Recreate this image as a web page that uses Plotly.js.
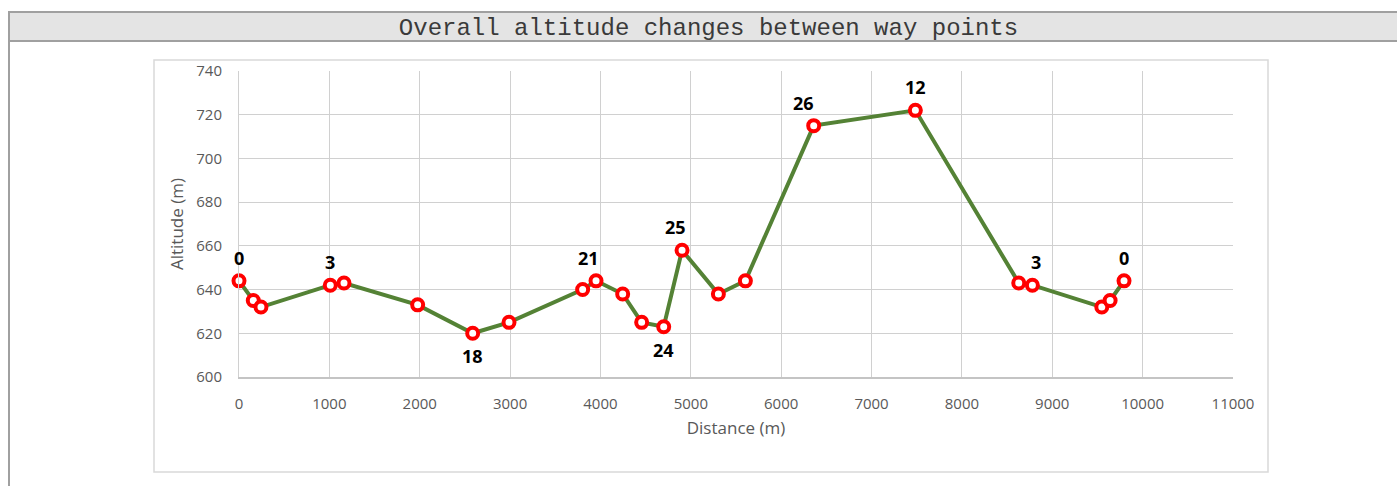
<!DOCTYPE html>
<html>
<head>
<meta charset="utf-8">
<script src="https://cdn.plot.ly/plotly-3.0.1.min.js"></script>
<style>
  html, body { margin: 0; padding: 0; background: #ffffff; }
  #chart { width: 1397px; height: 486px; }
</style>
</head>
<body>
<div id="chart"></div>
<script>
// ---- data ----
const distance = [0, 158, 243, 1010, 1162, 1977, 2586, 2988, 3803, 3951, 4246, 4456, 4700, 4903, 5305, 5604, 6360, 7485, 8629, 8780, 9548, 9640, 9794];
const altitude = [644, 635, 632, 642, 643, 633, 620, 625, 640, 644, 638, 625, 623, 658, 638, 644, 715, 722, 643, 642, 632, 635, 644];
const pointLabels = ['0', '', '', '3', '', '', '18', '', '', '21', '', '', '24', '25', '', '', '26', '12', '', '3', '', '', '0'];
const xTickValues = [0, 1000, 2000, 3000, 4000, 5000, 6000, 7000, 8000, 9000, 10000, 11000];
const yTickValues = [600, 620, 640, 660, 680, 700, 720, 740];
const chartTitle = 'Overall altitude changes between way points';
const xTitle = 'Distance (m)';
const yTitle = 'Altitude (m)';

// ---- layout geometry (pixels) ----
const W = 1397, H = 486;
const PL = 239, PR = 1233, PT = 71, PB = 377;
const px = v => (v - PL) / (PR - PL);
const py = v => (PB - v) / (PB - PT);

const labelsBelow = new Set(['18', '24']);
const labelXShift = {9: -8, 13: -7, 16: -10, 19: 4};

const annotations = [];
pointLabels.forEach((t, i) => {
  if (!t) return;
  const below = labelsBelow.has(t);
  annotations.push({
    x: distance[i], y: altitude[i], xref: 'x', yref: 'y',
    text: '<b>' + t + '</b>', showarrow: false,
    xshift: labelXShift[i] || 0,
    yshift: below ? -23 : 23,
    font: {family: 'Open Sans, Noto Sans, sans-serif', size: 18, color: '#000000'}
  });
});

const shapes = [
  // title bar
  {type: 'rect', xref: 'paper', yref: 'paper', layer: 'below',
   x0: px(9), x1: px(1410), y0: py(12), y1: py(41),
   fillcolor: '#e4e4e4', line: {color: '#a0a0a0', width: 2}},
  // left frame line
  {type: 'line', xref: 'paper', yref: 'paper', layer: 'below',
   x0: px(9), x1: px(9), y0: py(41), y1: py(500),
   line: {color: '#a0a0a0', width: 2}},
  // inner chart border
  {type: 'rect', xref: 'paper', yref: 'paper', layer: 'below',
   x0: px(154), x1: px(1268), y0: py(60), y1: py(472),
   line: {color: '#d9d9d9', width: 1.5}}
];

const trace = {
  x: distance, y: altitude, type: 'scatter', mode: 'lines+markers',
  line: {color: '#548235', width: 4},
  marker: {symbol: 'circle', size: 11, color: '#ffffff', line: {color: '#ff0000', width: 4}},
  cliponaxis: false, hoverinfo: 'x+y'
};

const tickFont = {family: 'Open Sans, Noto Sans, sans-serif', size: 15, color: '#595959'};
const axTitleFont = {family: 'Open Sans, Noto Sans, sans-serif', size: 17, color: '#595959'};

const layout = {
  width: W, height: H,
  margin: {l: PL, r: W - PR, t: PT, b: H - PB, pad: 0},
  paper_bgcolor: '#ffffff', plot_bgcolor: '#ffffff',
  showlegend: false,
  title: {
    text: chartTitle,
    font: {family: 'Courier New, Liberation Mono, monospace', size: 24, color: '#3a3a3a'},
    x: 708.5 / W, xref: 'container', xanchor: 'center',
    y: 1 - 27 / H, yref: 'container', yanchor: 'middle'
  },
  xaxis: {
    range: [0, 11000], tickmode: 'array', tickvals: xTickValues,
    ticktext: xTickValues.map(String),
    showgrid: true, gridcolor: '#d0d0d0', gridwidth: 1,
    zeroline: false, showline: true, linecolor: '#c4c4c4', linewidth: 1.5, mirror: false,
    ticks: '', tickfont: tickFont, ticklabelstandoff: 12,
    title: {text: xTitle, font: axTitleFont, standoff: 10},
    fixedrange: true
  },
  yaxis: {
    range: [600, 740], tickmode: 'array', tickvals: yTickValues,
    ticktext: yTickValues.map(String),
    showgrid: true, gridcolor: '#d0d0d0', gridwidth: 1,
    zeroline: false, showline: true, linecolor: '#d0d0d0', linewidth: 1, mirror: false,
    ticks: '', tickfont: tickFont, ticklabelstandoff: 13,
    title: {text: yTitle, font: axTitleFont, standoff: 8},
    fixedrange: true
  },
  shapes: shapes,
  annotations: annotations
};

Plotly.newPlot('chart', [trace], layout, {displayModeBar: false, staticPlot: true});
</script>
</body>
</html>
